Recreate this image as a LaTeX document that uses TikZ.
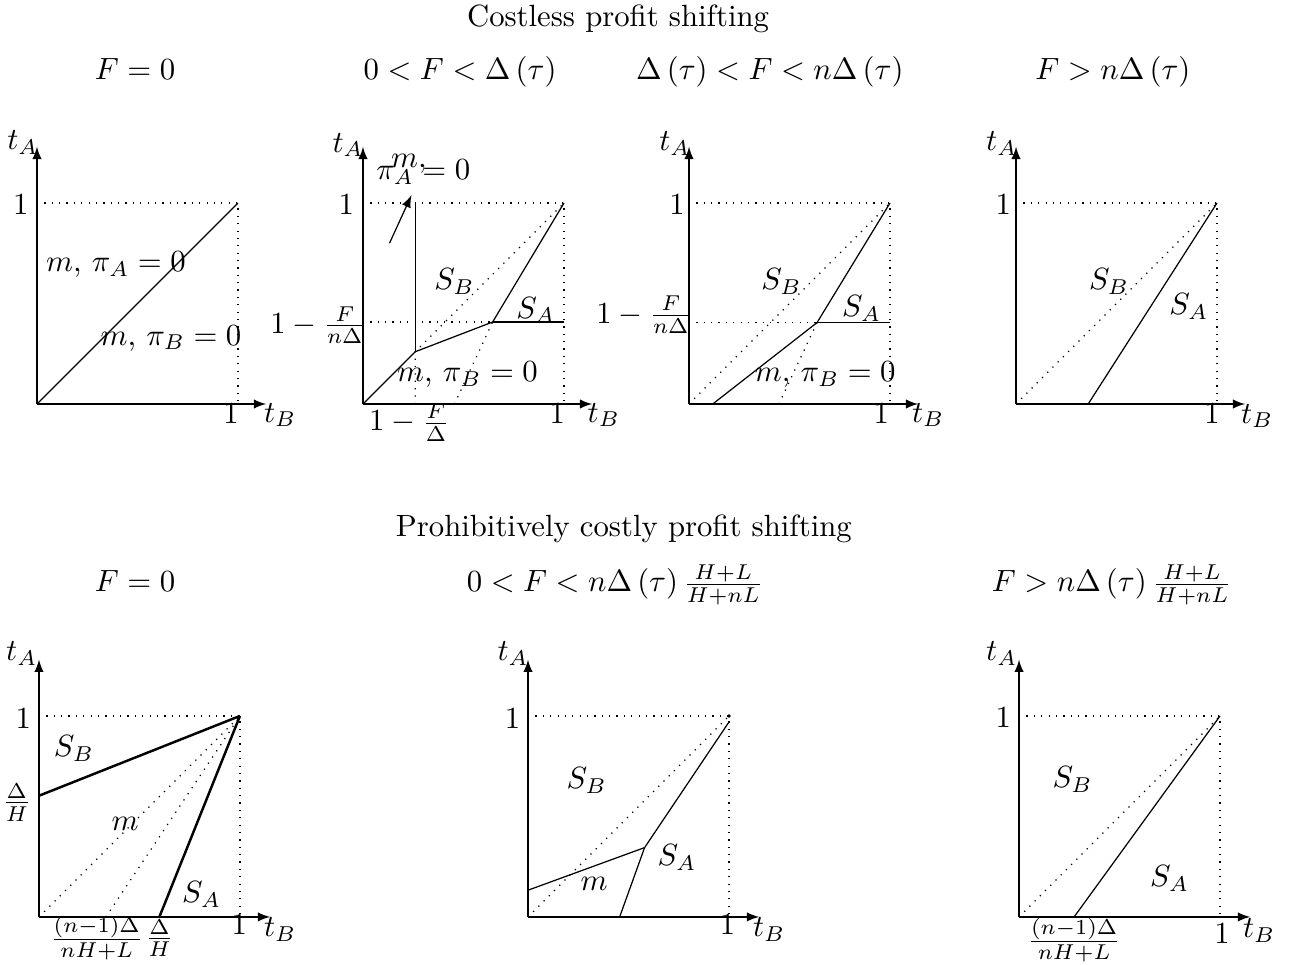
\documentclass[tikz,border=0pt]{standalone}
\begin{document}
\begin{tikzpicture}[
    x=2.3cm, y=2.3cm,
    >=latex,
    hd/.style={anchor=base},
    ylab/.style={anchor=east, inner sep=0pt, xshift=1.2pt}
  ]
    \useasboundingbox (0,0) rectangle (6.438,-4.801);

    % headings
    \node[hd] (top) at (3.075,-0.133) {Costless profit shifting};
    \node[hd] (h1) at (0.672,-0.398) {$F=0$};
    \node[hd] (h2) at (2.289,-0.398) {$0<F<\Delta\left(\tau\right)$};
    \node[hd] (h3) at (3.83,-0.398) {$\Delta\left(\tau\right)<F<n\Delta\left(\tau\right)$};
    \node[hd] (h4) at (5.537,-0.398) {$F>n\Delta\left(\tau\right)$};
    \node[hd] (bot) at (3.104,-2.669) {Prohibitively costly profit shifting};
    \node[hd] (h5) at (0.672,-2.945) {$F=0$};
    \node[hd] (h6) at (3.06,-2.945) {$0<F<n\Delta\left(\tau\right)\frac{H+L}{H+nL}$};
    \node[hd] (h7) at (5.532,-2.945) {$F>n\Delta\left(\tau\right)\frac{H+L}{H+nL}$};

    % F = 0, costless
    \begin{scope}[shift={(0.184,-2.010)}]
      \draw[->] (0,0) -- (1.14,0);
      \draw[->] (0,0) -- (0,1.28);
      \draw[dotted] (0,1) -- (1,1) -- (1,0);
      \draw (0,0) -- (1,1);
      \node (tA1) at (-0.07,1.30) {$t_A$};
      \node (tB1) at (1.21,-0.055) {$t_B$};
      \node (y1) at (-0.08,0.99) {$1$};
      \node (x1) at (0.965,-0.046) {$1$};
      \node (mA1) at (0.393,0.692) {$m$, $\pi_A=0$};
      \node (mB1) at (0.667,0.327) {$m$, $\pi_B=0$};
    \end{scope}

    % 0 < F < Delta
    \begin{scope}[shift={(1.806,-2.010)}]
      \draw[->] (0,0) -- (1.14,0);
      \draw[->] (0,0) -- (0,1.28);
      \draw[dotted] (0,1) -- (1,1) -- (1,0);
      \draw[dotted] (0,0.408) -- (0.645,0.408);
      \draw[dotted] (0.26,0) -- (0.26,0.26) -- (1,1);
      \draw[dotted] (0.455,0) -- (0.645,0.408);
      \draw (0,0) -- (0.26,0.26) -- (0.645,0.408) -- (1,1);
      \draw (0.645,0.408) -- (1,0.408);
      \draw (0.26,0.26) -- (0.26,1);
      \node (tA2) at (-0.074,1.289) {$t_A$};
      \node (tB2) at (1.198,-0.055) {$t_B$};
      \node (y2) at (-0.083,0.99) {$1$};
      \node (x2) at (0.967,-0.046) {$1$};
      \node[ylab] (k2) at (0,0.393) {$1-\frac{F}{n\Delta}$};
      \node (f2) at (0.231,-0.094) {$1-\frac{F}{\Delta}$};
      \node (SB2) at (0.455,0.609) {$S_B$};
      \node (SA2) at (0.86,0.468) {$S_A$};
      \node (mB2) at (0.52,0.144) {$m$, $\pi_B=0$};
      \coordinate (c2) at (0.132,0.80);
      \node[align=left] (mA2) at (0.30,1.168) {\hspace{4.8pt}$m,$\\[-8pt]$\pi_A=0$};
      \draw[->] (c2) -- (mA2);
    \end{scope}

    % Delta < F < n Delta
    \begin{scope}[shift={(3.428,-2.010)}]
      \draw[->] (0,0) -- (1.14,0);
      \draw[->] (0,0) -- (0,1.28);
      \draw[dotted] (0,1) -- (1,1) -- (1,0);
      \draw[dotted] (0,0) -- (1,1);
      \draw[dotted] (0,0.405) -- (0.637,0.405);
      \draw[dotted] (0.447,0) -- (0.637,0.405);
      \draw (0.118,0) -- (0.637,0.405) -- (1,1);
      \draw (0.637,0.405) -- (1,0.405);
      \node (tA3) at (-0.07,1.297) {$t_A$};
      \node (tB3) at (1.19,-0.055) {$t_B$};
      \node (y3) at (-0.06,0.99) {$1$};
      \node (x3) at (0.957,-0.046) {$1$};
      \node[ylab] (k3) at (0,0.443) {$1-\frac{F}{n\Delta}$};
      \node (SB3) at (0.46,0.609) {$S_B$};
      \node (SA3) at (0.859,0.476) {$S_A$};
      \node (mB3) at (0.678,0.144) {$m$, $\pi_B=0$};
    \end{scope}

    % F > n Delta
    \begin{scope}[shift={(5.055,-2.010)}]
      \draw[->] (0,0) -- (1.14,0);
      \draw[->] (0,0) -- (0,1.28);
      \draw[dotted] (0,1) -- (1,1) -- (1,0);
      \draw[dotted] (0,0) -- (1,1);
      \draw (0.359,0) -- (1,1);
      \node (tA4) at (-0.071,1.297) {$t_A$};
      \node (tB4) at (1.2,-0.06) {$t_B$};
      \node (y4) at (-0.063,0.99) {$1$};
      \node (x4) at (0.975,-0.05) {$1$};
      \node (SB4) at (0.463,0.609) {$S_B$};
      \node (SA4) at (0.86,0.484) {$S_A$};
    \end{scope}

    % F = 0, prohibitive
    \begin{scope}[shift={(0.194,-4.562)}]
      \draw[->] (0,0) -- (1.15,0);
      \draw[->] (0,0) -- (0,1.28);
      \draw[dotted] (0,1) -- (1,1) -- (1,0);
      \draw[dotted] (0,0) -- (1,1);
      \draw[dotted] (0.333,0) -- (1,1);
      \draw[thick] (0,0.603) -- (1,1);
      \draw[thick] (0.599,0) -- (1,1);
      \node (tA5) at (-0.086,1.31) {$t_A$};
      \node (tB5) at (1.2,-0.063) {$t_B$};
      \node (y5) at (-0.078,0.987) {$1$};
      \node (x5) at (0.997,-0.04) {$1$};
      \node (d5) at (-0.111,0.57) {$\frac{\Delta}{H}$};
      \node (e5) at (0.287,-0.105) {$\frac{(n-1)\Delta}{nH+L}$};
      \node (g5) at (0.599,-0.105) {$\frac{\Delta}{H}$};
      \node (SB5) at (0.174,0.837) {$S_B$};
      \node (m5) at (0.428,0.462) {$m$};
      \node (SA5) at (0.809,0.112) {$S_A$};
    \end{scope}

    % 0 < F < n Delta (H+L)/(H+nL)
    \begin{scope}[shift={(2.627,-4.562)}]
      \draw[->] (0,0) -- (1.15,0);
      \draw[->] (0,0) -- (0,1.28);
      \draw[dotted] (0,1) -- (1,1) -- (1,0);
      \draw[dotted] (0,0) -- (1,1);
      \fill (1,1) circle (0.6pt);
      \draw (0,0.133) -- (0.58,0.345) -- (1,0.97);
      \draw (0.58,0.345) -- (0.456,0);
      \node (tA6) at (-0.074,1.31) {$t_A$};
      \node (tB6) at (1.2,-0.063) {$t_B$};
      \node (y6) at (-0.077,0.987) {$1$};
      \node (x6) at (0.993,-0.04) {$1$};
      \node (SB6) at (0.292,0.678) {$S_B$};
      \node (m6) at (0.329,0.162) {$m$};
      \node (SA6) at (0.741,0.295) {$S_A$};
    \end{scope}

    % F > n Delta (H+L)/(H+nL)
    \begin{scope}[shift={(5.070,-4.562)}]
      \draw[->] (0,0) -- (1.15,0);
      \draw[->] (0,0) -- (0,1.28);
      \draw[dotted] (0,1) -- (1,1) -- (1,0);
      \draw[dotted] (0,0) -- (1,1);
      \draw (0.274,0) -- (1,1);
      \node (tA7) at (-0.086,1.31) {$t_A$};
      \node (tB7) at (1.195,-0.067) {$t_B$};
      \node (y7) at (-0.078,0.99) {$1$};
      \node (x7) at (1.01,-0.083) {$1$};
      \node (e7) at (0.274,-0.117) {$\frac{(n-1)\Delta}{nH+L}$};
      \node (SB7) at (0.266,0.683) {$S_B$};
      \node (SA7) at (0.749,0.192) {$S_A$};
    \end{scope}
  \end{tikzpicture}
\end{document}
